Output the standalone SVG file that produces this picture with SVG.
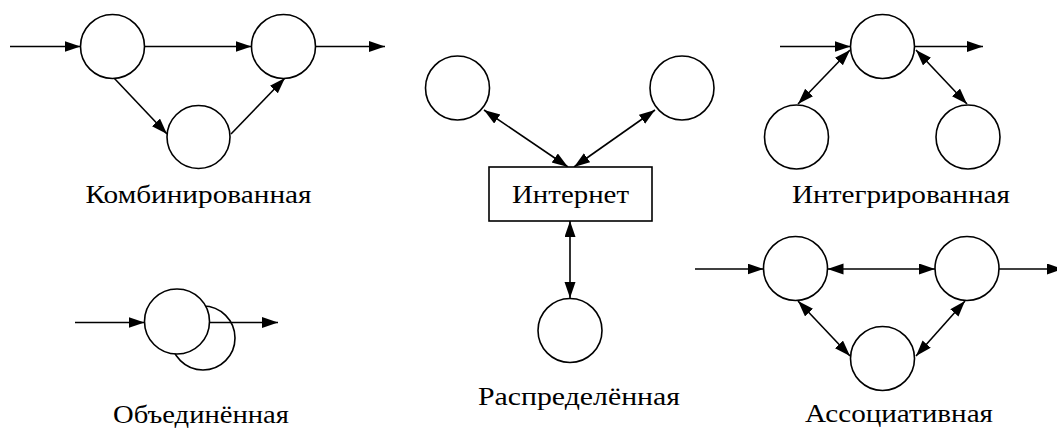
<svg xmlns="http://www.w3.org/2000/svg" width="1057" height="429" viewBox="0 0 1057 429">
<style>
.n{fill:#fff;stroke:#000;stroke-width:1.6}
.c{stroke:#000;stroke-width:1.6;fill:none}
.a{marker-end:url(#ah)}
.d{marker-start:url(#ah);marker-end:url(#ah)}
.t{font-family:"Liberation Serif","Times New Roman","DejaVu Serif",serif;font-size:26px;fill:#000;text-anchor:middle}
</style>
<defs>
<marker id="ah" markerUnits="userSpaceOnUse" markerWidth="17" markerHeight="12" refX="16" refY="5.5" orient="auto-start-reverse">
<path d="M0,0 L16,5.5 L0,11 Z" fill="#000"/>
</marker>
</defs>
<rect width="1057" height="429" fill="#fff"/>
<g id="connectors">
<line class="c a" x1="10" y1="46.5" x2="80.5" y2="46.5"/>
<line class="c a" x1="144.5" y1="46.5" x2="251.5" y2="46.5"/>
<line class="c a" x1="315.5" y1="46.5" x2="385" y2="46.5"/>
<line class="c a" x1="114" y1="78" x2="167" y2="134"/>
<line class="c a" x1="231" y1="134" x2="285" y2="78"/>
<line class="c a" x1="75" y1="322.5" x2="144.5" y2="322.5"/>
<line class="c d" x1="484" y1="110" x2="568" y2="167"/>
<line class="c d" x1="655" y1="110" x2="574" y2="167"/>
<line class="c d" x1="570" y1="221" x2="570" y2="298"/>
<line class="c a" x1="780" y1="46.5" x2="850.5" y2="46.5"/>
<line class="c a" x1="914.5" y1="46.5" x2="983" y2="46.5"/>
<line class="c d" x1="850" y1="50" x2="798" y2="104"/>
<line class="c d" x1="916" y1="50" x2="967" y2="104"/>
<line class="c a" x1="695" y1="269" x2="763.5" y2="269"/>
<line class="c d" x1="827.5" y1="269" x2="935" y2="269"/>
<line class="c a" x1="999" y1="269" x2="1063" y2="269"/>
<line class="c d" x1="798" y1="301" x2="850" y2="356"/>
<line class="c d" x1="965" y1="301" x2="916" y2="356"/>
</g>
<g id="combined">
<circle id="comb-a" class="n" cx="112.5" cy="46.5" r="32"/>
<circle id="comb-b" class="n" cx="283.5" cy="46.5" r="32"/>
<circle id="comb-c" class="n" cx="198.5" cy="137" r="31.5"/>
<text class="t" x="198.5" y="203" textLength="226" lengthAdjust="spacingAndGlyphs">Комбинированная</text>
</g>
<g id="merged">
<circle id="merged-back" class="n" cx="203" cy="338" r="32"/>
<circle id="merged-front" class="n" cx="177" cy="321.5" r="32.5"/>
<line class="c a" x1="209.5" y1="322.5" x2="278" y2="322.5"/>
<text class="t" x="201" y="423" textLength="176" lengthAdjust="spacingAndGlyphs">Объединённая</text>
</g>
<g id="distributed">
<circle id="dist-left" class="n" cx="457.5" cy="88" r="32"/>
<circle id="dist-right" class="n" cx="682" cy="88" r="32"/>
<g id="internet">
<rect class="n" x="489" y="167" width="163" height="54"/>
<text class="t" x="570.5" y="203" textLength="117" lengthAdjust="spacingAndGlyphs">Интернет</text>
</g>
<circle id="dist-bottom" class="n" cx="570" cy="330.5" r="32"/>
<text class="t" x="579" y="405" textLength="202" lengthAdjust="spacingAndGlyphs">Распределённая</text>
</g>
<g id="integrated">
<circle id="int-top" class="n" cx="882.5" cy="46.5" r="32"/>
<circle id="int-left" class="n" cx="796.5" cy="137" r="32"/>
<circle id="int-right" class="n" cx="968" cy="137" r="32"/>
<text class="t" x="901" y="203" textLength="218" lengthAdjust="spacingAndGlyphs">Интегрированная</text>
</g>
<g id="associative">
<circle id="assoc-left" class="n" cx="795.5" cy="268.5" r="32"/>
<circle id="assoc-right" class="n" cx="967" cy="268.5" r="32"/>
<circle id="assoc-bottom" class="n" cx="882.5" cy="358.5" r="32"/>
<text class="t" x="899" y="422" textLength="188" lengthAdjust="spacingAndGlyphs">Ассоциативная</text>
</g>
</svg>
